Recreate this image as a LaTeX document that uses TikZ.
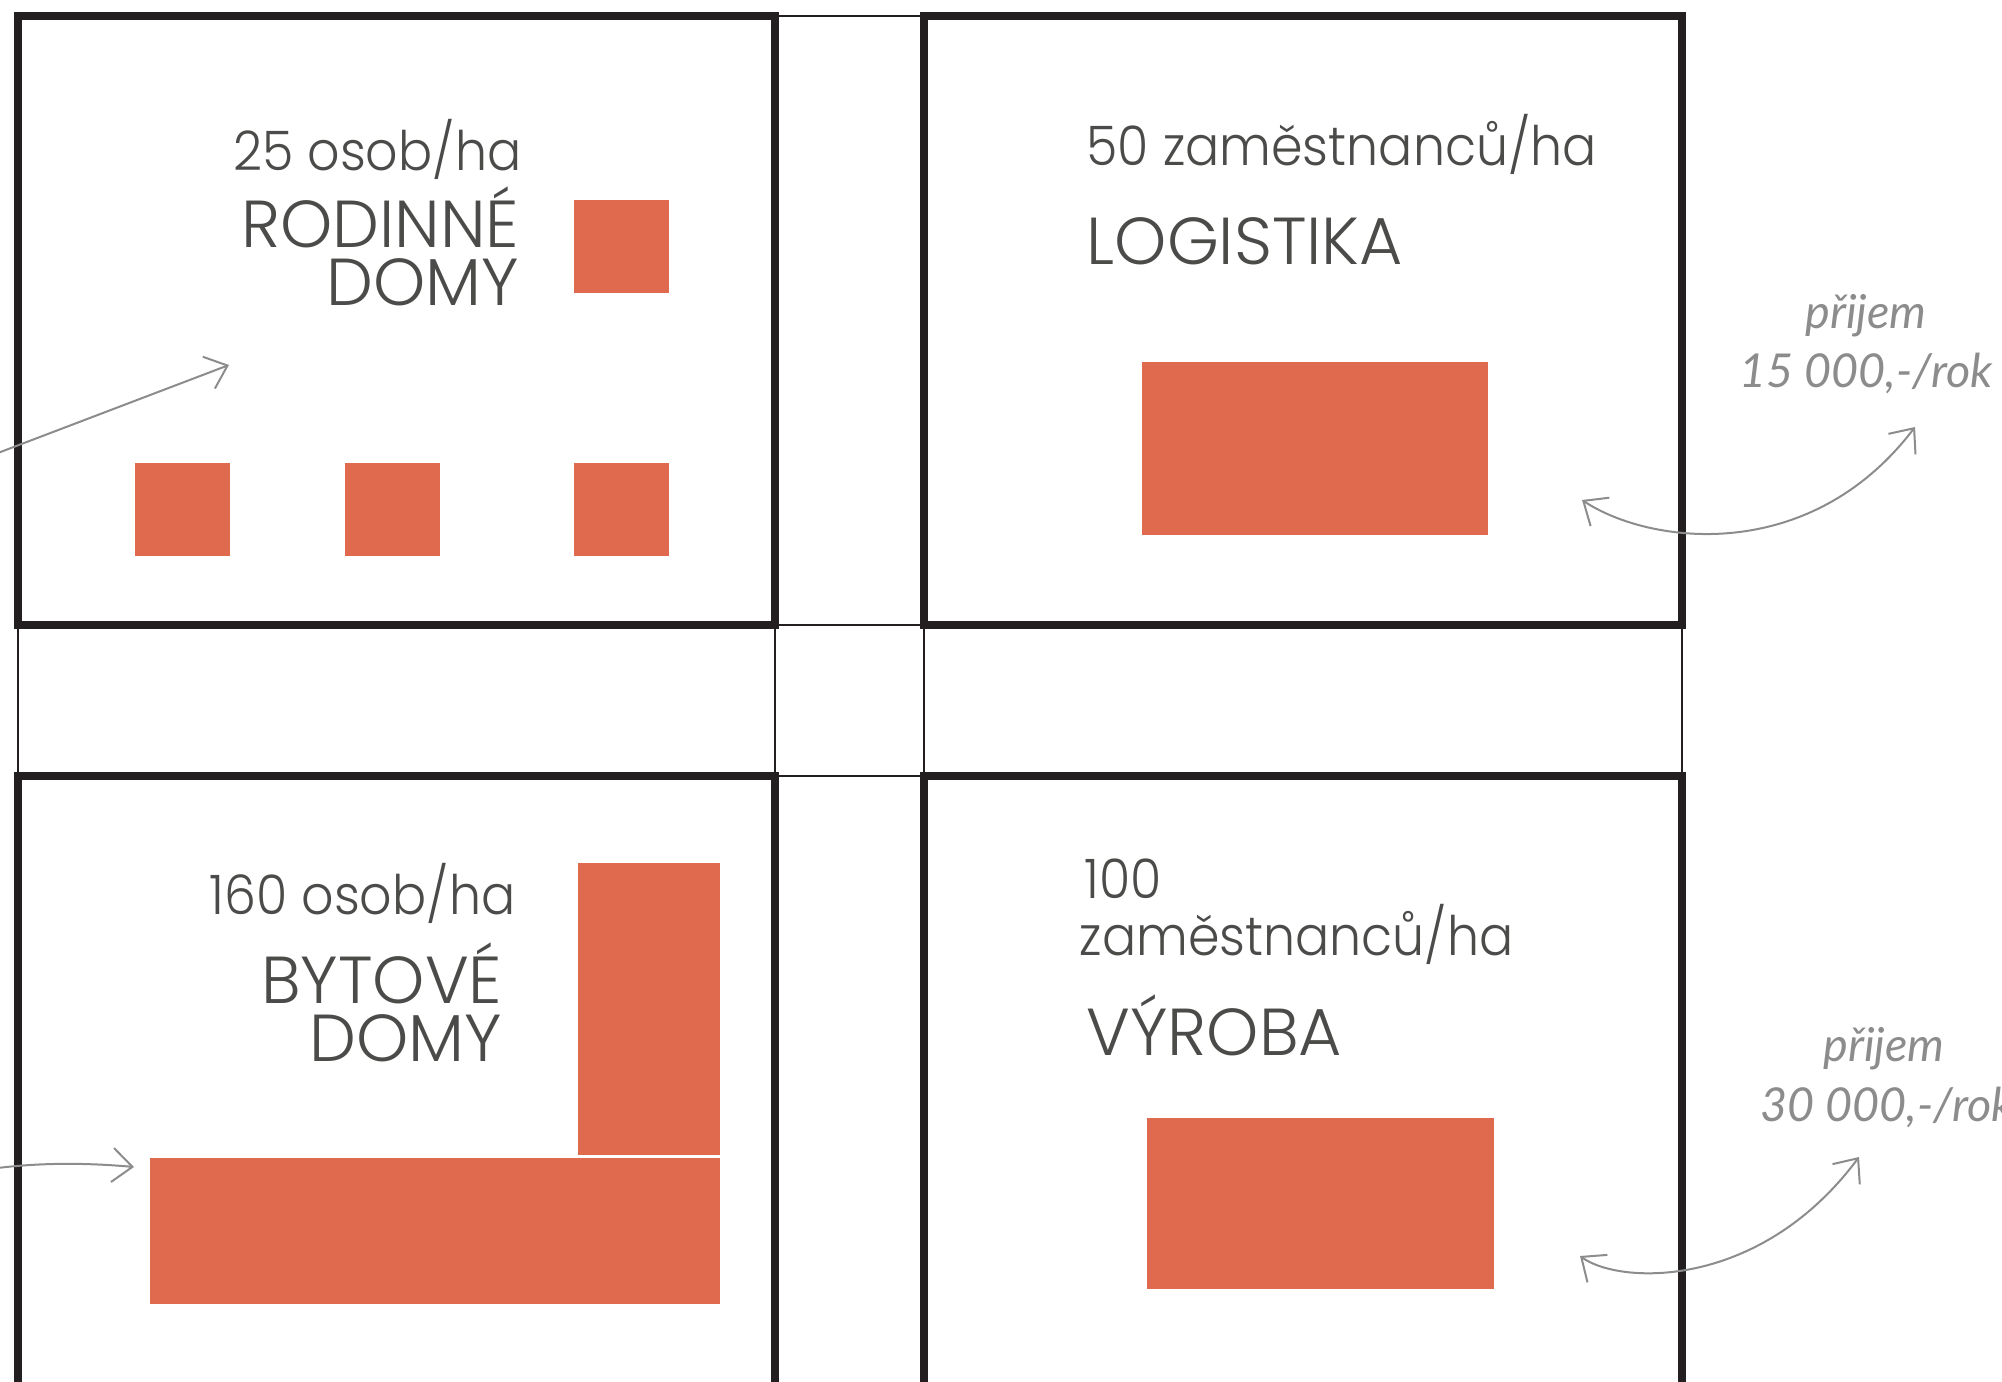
\documentclass[tikz,border=0pt]{standalone}
\usepackage{fontspec}
\setmainfont{Poppins}[UprightFont=* Light]
\newfontfamily\hustotafont{Poppins}[UprightFont=* Light, FakeStretch=0.93]
\newfontfamily\handfont{Lato}
\usetikzlibrary{arrows.meta}

\definecolor{blok}{HTML}{E06A4E}
\definecolor{cara}{HTML}{231F20}
\definecolor{popis}{HTML}{4B4B49}
\definecolor{sipka}{HTML}{8C8C8C}

\tikzset{
  uzemi/.style={draw=cara, line width=0.8mm},
  ulice/.style={draw=cara, line width=0.15mm},
  hustota/.style={text=popis, inner sep=0pt, font=\hustotafont\fontsize{15.5}{18}\selectfont},
  funkce/.style={text=popis, inner sep=0pt, text height=4.6mm, text depth=0pt, font=\fontsize{18.9}{22}\selectfont},
  prijem/.style={text=sipka, inner sep=0pt, anchor=base, font=\handfont\itshape\fontsize{13.3}{15}\selectfont},
  barb/.tip={Straight Barb[length=2mm,width=3.4mm]},
  vazba/.style={draw=sipka, line width=0.2mm, -barb},
  oboustranna/.style={draw=sipka, line width=0.2mm, barb-barb},
}

\begin{document}
\begin{tikzpicture}[x=0.1mm,y=-0.1mm]
\useasboundingbox (0,0) rectangle (2002,1382);
\clip (0,0) rectangle (2002,1382);
% ulice
\draw[ulice] (18,16) -- (1682,16);
\draw[ulice] (18,625) -- (1682,625);
\draw[ulice] (18,776) -- (1682,776);
\draw[ulice] (18,16) -- (18,1400);
\draw[ulice] (775,16) -- (775,1400);
\draw[ulice] (924,16) -- (924,1400);
\draw[ulice] (1682,16) -- (1682,1400);
% bloky
\draw[uzemi] (18,16) rectangle (775,625);
\draw[uzemi] (924,16) rectangle (1682,625);
\draw[uzemi] (18,776) rectangle (775,1400);
\draw[uzemi] (924,776) rectangle (1682,1400);
% zastavba
\fill[blok] (574,200) rectangle +(95,93);
\fill[blok] (135,463) rectangle +(95,93);
\fill[blok] (345,463) rectangle +(95,93);
\fill[blok] (574,463) rectangle +(95,93);
\fill[blok] (1142,362) rectangle (1488,535);
\fill[blok] (578,863) rectangle (720,1155);
\fill[blok] (150,1158) rectangle (720,1304);
\fill[blok] (1147,1118) rectangle (1494,1289);
% popisy
\node[hustota, anchor=base east] (hustotaRD) at (522,171) {25 osob/ha};
\node[funkce, anchor=base east] (rodinne) at (520,248) {RODINNÉ};
\node[funkce, anchor=base east] (domyRD) at (520,306) {DOMY};
\node[hustota, anchor=base west] (hustotaLog) at (1086,166) {50 zaměstnanců/ha};
\node[funkce, anchor=base west] (logistika) at (1086,265) {LOGISTIKA};
\node[hustota, anchor=base east] (hustotaBD) at (516,914) {160 osob/ha};
\node[funkce, anchor=base east] (bytove) at (503,1003) {BYTOVÉ};
\node[funkce, anchor=base east] (domyBD) at (503,1061) {DOMY};
\node[hustota, anchor=base west] (pocetVyr) at (1084,898) {100};
\node[hustota, anchor=base west] (hustotaVyr) at (1079,955) {zaměstnanců/ha};
\node[funkce, anchor=base west] (vyroba) at (1086,1055) {VÝROBA};
\node[prijem] (prijemLog) at (1866,329) {přijem};
\node[prijem] (castkaLog) at (1866,388) {15 000,-/rok};
\node[prijem] (prijemVyr) at (1884,1061) {přijem};
\node[prijem] (castkaVyr) at (1887,1121) {30 000,-/rok};
% sipky
\coordinate (odkudRD) at (-10,456);
\coordinate (kamRD) at (229,365);
\coordinate (odkudBD) at (-10,1169);
\coordinate (kamBD) at (134,1167);
\coordinate (zLog) at (1582,500);
\coordinate (doLog) at (1915,427);
\coordinate (zVyr) at (1580,1256);
\coordinate (doVyr) at (1859,1157);
\draw[vazba] (odkudRD) -- (kamRD);
\draw[vazba] (odkudBD) .. controls (40,1162) and (90,1163) .. (kamBD);
\draw[oboustranna] (zLog) .. controls (1650,545) and (1810,565) .. (doLog);
\draw[oboustranna] (zVyr) .. controls (1620,1285) and (1760,1290) .. (doVyr);
\end{tikzpicture}
\end{document}
